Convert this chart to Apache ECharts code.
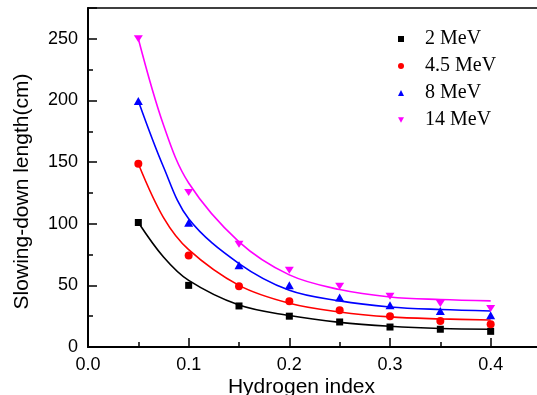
<!DOCTYPE html>
<html>
<head>
<meta charset="utf-8">
<script src="https://cdn.jsdelivr.net/npm/echarts@6/dist/echarts.min.js"></script>
<style>html,body{margin:0;padding:0;background:#fff}#c{width:537px;height:395px}</style>
</head>
<body>
<div id="c"></div>
<script>
// Measured data points (markers)
var hydrogenIndex = [0.05, 0.1, 0.15, 0.2, 0.25, 0.3, 0.35, 0.4];
var mev2  = [101, 50, 33.3, 25, 20.3, 16.2, 14.4, 12.7];
var mev45 = [148.7, 74.2, 49.3, 37.1, 29.8, 24.9, 21.1, 18.4];
var mev8  = [199.5, 100.7, 66.4, 50.1, 40.1, 33.9, 29.2, 25.7];
var mev14 = [250, 125.4, 83.4, 62.3, 49.3, 41.2, 35.2, 31.2];
// Fitted curves
var fitX   = [0.05, 0.075, 0.1, 0.15, 0.2, 0.25, 0.3, 0.35, 0.4];
var fit2   = [101, 73, 54, 34, 25.5, 20, 16.8, 15, 14.4];
var fit45  = [148.7, 105, 79, 50, 35.5, 28.4, 24.4, 22.8, 21.9];
var fit8   = [199.5, 146, 104, 67.7, 46, 37.4, 32.5, 30.4, 29.2];
var fit14  = [250, 180, 133, 85.3, 58.5, 46.6, 40.6, 38.5, 37.4];
var seriesNames = ['2 MeV', '4.5 MeV', '8 MeV', '14 MeV'];
var xTitle = 'Hydrogen index';
var yTitle = 'Slowing-down length(cm)';

var colors = ['#000000', '#ff0000', '#0000ff', '#ff00ff'];
var symbols = ['rect', 'circle', 'triangle', 'path://M0,0L10,0L5,9Z'];
var sizes = [[7, 7], [8, 8], [9, 8], [9, 7]];
var markers = [mev2, mev45, mev8, mev14];
var fits = [fit2, fit45, fit8, fit14];

function pairs(xs, ys) { return xs.map(function (x, i) { return [x, ys[i]]; }); }

var series = [];
for (var i = 0; i < 4; i++) {
  series.push({
    name: seriesNames[i] + ' fit', type: 'line', smooth: 0.35, showSymbol: false, symbol: 'none',
    data: pairs(fitX, fits[i]), lineStyle: { color: colors[i], width: 1.6 },
    xAxisIndex: 0, yAxisIndex: 0, silent: true, z: 2
  });
}
for (var j = 0; j < 4; j++) {
  series.push({
    name: seriesNames[j], type: 'scatter', symbol: symbols[j], symbolSize: sizes[j],
    data: pairs(hydrogenIndex, markers[j]), itemStyle: { color: colors[j], opacity: 1 },
    xAxisIndex: 0, yAxisIndex: 0, z: 3
  });
}

var labelFont = { fontFamily: 'Liberation Sans', fontSize: 18, color: '#000' };
var nameFont = { fontFamily: 'Liberation Sans', fontSize: 21, color: '#000' };

var option = {
  backgroundColor: '#fff',
  animation: false,
  grid: { left: 88, top: 8, width: 453, height: 339, containLabel: false, outerBoundsMode: 'none',
          show: true, borderColor: '#000', borderWidth: 1.5, backgroundColor: 'transparent' },
  legend: {
    orient: 'vertical', left: 393, top: 24, itemWidth: 6, itemHeight: 6, itemGap: 7,
    data: seriesNames.map(function (n, k) { return { name: n, icon: symbols[k] }; }),
    textStyle: { fontFamily: 'Liberation Serif', fontSize: 20, color: '#000', lineHeight: 20, padding: [0, 0, 0, 16] },
    selectedMode: false
  },
  xAxis: [
    { type: 'value', min: 0, max: 0.45, interval: 0.05, position: 'bottom',
      axisLine: { show: true, onZero: false, lineStyle: { color: '#000', width: 2 } },
      axisTick: { show: true, inside: true, length: 5, lineStyle: { color: '#000', width: 1.5 } },
      axisLabel: { show: false }, splitLine: { show: false } },
    { type: 'value', min: 0, max: 0.45, interval: 0.1, position: 'bottom',
      axisLine: { show: false, onZero: false },
      axisTick: { show: true, inside: true, length: 9, lineStyle: { color: '#000', width: 1.5 } },
      axisLabel: Object.assign({ margin: 9, formatter: function (v) { return Math.round(v * 100) % 10 === 0 ? v.toFixed(1) : ''; } }, labelFont),
      splitLine: { show: false },
      name: xTitle, nameLocation: 'middle', nameGap: 30, nameMoveOverlap: false,
      nameTextStyle: Object.assign({ padding: [0, 26, 0, 0] }, nameFont) }
  ],
  yAxis: [
    { type: 'value', min: 0, max: 275, interval: 25, position: 'left',
      axisLine: { show: true, onZero: false, lineStyle: { color: '#000', width: 2 } },
      axisTick: { show: true, inside: true, length: 5, lineStyle: { color: '#000', width: 1.5 } },
      axisLabel: { show: false }, splitLine: { show: false } },
    { type: 'value', min: 0, max: 275, interval: 50, position: 'left',
      axisLine: { show: false, onZero: false },
      axisTick: { show: true, inside: true, length: 9, lineStyle: { color: '#000', width: 1.5 } },
      axisLabel: Object.assign({ margin: 10, formatter: function (v) { return v % 50 === 0 ? String(v) : ''; } }, labelFont),
      splitLine: { show: false },
      name: yTitle, nameLocation: 'middle', nameGap: 55, nameMoveOverlap: false,
      nameTextStyle: Object.assign({ padding: [0, 28, 0, 0] }, nameFont) }
  ],
  series: series
};

var chart = echarts.init(document.getElementById('c'), null, { renderer: 'canvas' });
chart.setOption(option);
</script>
</body>
</html>
